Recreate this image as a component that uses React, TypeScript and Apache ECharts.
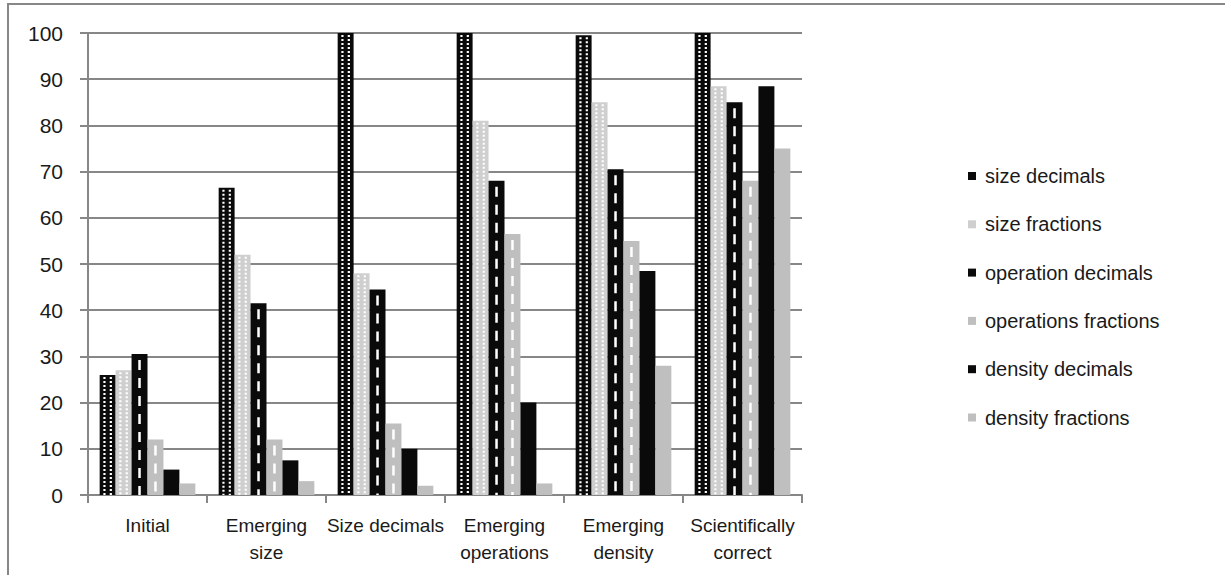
import React, { useEffect, useRef } from "react";
import * as echarts from "echarts";

const categories = [
  "Initial",
  "Emerging\nsize",
  "Size decimals",
  "Emerging\noperations",
  "Emerging\ndensity",
  "Scientifically\ncorrect",
];
const seriesNames = [
  "size decimals",
  "size fractions",
  "operation decimals",
  "operations fractions",
  "density decimals",
  "density fractions",
];
const sizeDecimals = [26, 66.5, 100, 100, 99.5, 100];
const sizeFractions = [27, 52, 48, 81, 85, 88.5];
const operationDecimals = [30.5, 41.5, 44.5, 68, 70.5, 85];
const operationsFractions = [12, 12, 15.5, 56.5, 55, 68];
const densityDecimals = [5.5, 7.5, 10, 20, 48.5, 88.5];
const densityFractions = [2.5, 3, 2, 2.5, 28, 75];
const yTicks = [0, 10, 20, 30, 40, 50, 60, 70, 80, 90, 100];

const allValues = [
  sizeDecimals,
  sizeFractions,
  operationDecimals,
  operationsFractions,
  densityDecimals,
  densityFractions,
];
// fill colour and decoration kind per series
const fills = ["#0a0a0a", "#cfcfcf", "#0a0a0a", "#bfbfbf", "#0a0a0a", "#bfbfbf"];
const decor = ["dots", "dots", "dash", "dash", "none", "none"];

export default function App() {
  const ref = useRef<HTMLDivElement>(null);
  useEffect(() => {
    if (!ref.current) return;
    const chart = echarts.init(ref.current, null, { renderer: "svg" });
    const gray = "#878787";
    const series = allValues.map((vals, idx) => ({
      type: "custom",
      name: seriesNames[idx],
      itemStyle: { color: fills[idx] },
      encode: { x: 0, y: 1 },
      data: vals.map((v, i) => [i, v]),
      renderItem: (params: any, api: any) => {
        const cat = api.value(0);
        const val = api.value(1);
        const base = api.coord([cat, 0]);
        const top = api.coord([cat, val]);
        const band = api.size([1, 0])[0];
        const bw = band * 0.134;
        const x0 = base[0] - 3 * bw + idx * bw;
        const h = base[1] - top[1];
        const children: any[] = [
          {
            type: "rect",
            shape: { x: x0, y: top[1], width: bw, height: h },
            style: { fill: fills[idx] },
          },
        ];
        if (decor[idx] === "dots") {
          [0.3, 0.7].forEach((f) => {
            children.push({
              type: "line",
              shape: { x1: x0 + bw * f, y1: top[1] + 2, x2: x0 + bw * f, y2: base[1] },
              style: { stroke: "#ffffff", lineWidth: 2.2, lineDash: [2, 2] },
            });
          });
        } else if (decor[idx] === "dash") {
          children.push({
            type: "line",
            shape: { x1: x0 + bw / 2, y1: top[1] + 6, x2: x0 + bw / 2, y2: base[1] },
            style: { stroke: "#ffffff", lineWidth: 2.5, lineDash: [10, 8] },
          });
        }
        return { type: "group", children };
      },
    }));

    chart.setOption({
      animation: false,
      backgroundColor: "#ffffff",
      textStyle: { fontFamily: "Liberation Sans" },
      graphic: [
        {
          type: "rect",
          shape: { x: 8, y: 4, width: 1400, height: 800 },
          style: { fill: "none", stroke: gray, lineWidth: 2 },
          silent: true,
        },
      ],
      grid: { left: 88, right: 423, top: 33, bottom: 80, containLabel: false },
      legend: {
        orient: "vertical",
        left: 963,
        top: 161,
        icon: "rect",
        itemWidth: 8,
        itemHeight: 8,
        itemGap: 28.3,
        data: seriesNames.map((n, i) => ({ name: n, itemStyle: { color: fills[i] } })),
        textStyle: {
          fontSize: 20,
          color: "#1a1a1a",
          lineHeight: 20,
          padding: [0, 0, 0, 4],
          fontFamily: "Liberation Sans",
        },
      },
      xAxis: {
        type: "category",
        data: categories,
        boundaryGap: true,
        axisLine: { lineStyle: { color: gray, width: 2 } },
        axisTick: { show: true, length: 8, lineStyle: { color: gray, width: 2 } },
        axisLabel: {
          interval: 0,
          fontSize: 19,
          lineHeight: 27,
          color: "#1a1a1a",
          margin: 17,
          fontFamily: "Liberation Sans",
        },
      },
      yAxis: {
        type: "value",
        min: yTicks[0],
        max: yTicks[yTicks.length - 1],
        interval: 10,
        axisLine: { show: true, lineStyle: { color: gray, width: 2 } },
        axisTick: { show: true, length: 8, lineStyle: { color: gray, width: 2 } },
        splitLine: { lineStyle: { color: gray, width: 2 } },
        axisLabel: {
          fontSize: 21,
          color: "#1a1a1a",
          margin: 25,
          fontFamily: "Liberation Sans",
        },
      },
      series,
    });
    return () => chart.dispose();
  }, []);
  return (
    <div
      ref={ref}
      style={{ position: "fixed", left: 0, top: 0, width: 1225, height: 575 }}
    />
  );
}
